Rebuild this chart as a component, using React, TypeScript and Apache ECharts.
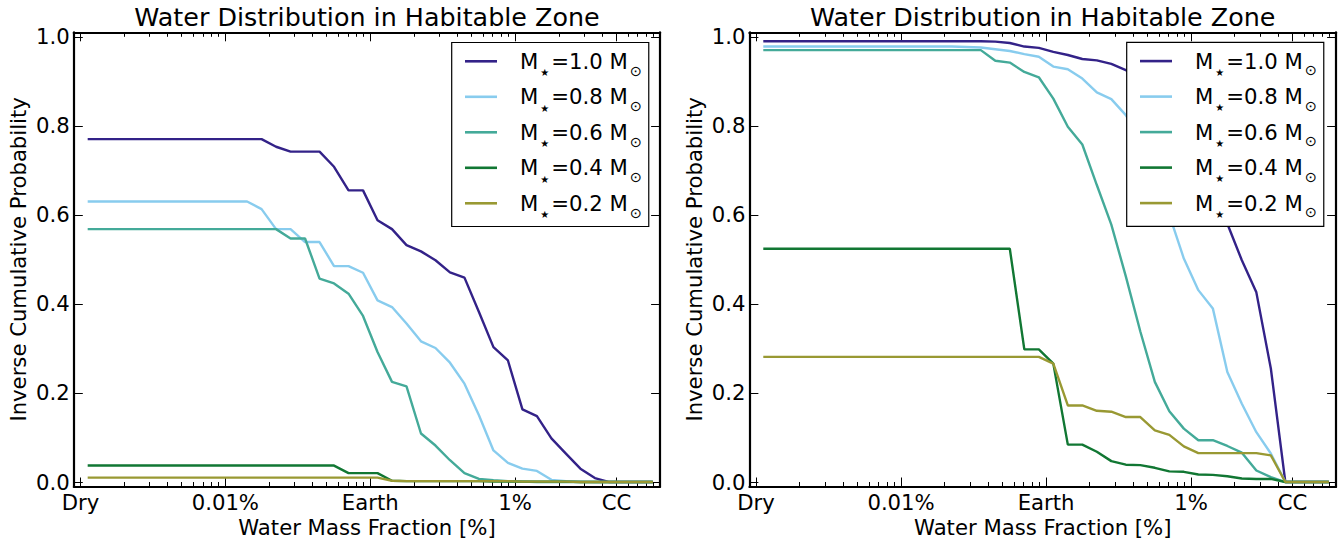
import React, { useEffect, useRef } from "react";
import * as echarts from "echarts";

// log10 of the water-mass-fraction bin centres (shared by both panels)
const binCenterLog10 = [
  -4.95, -4.85, -4.75, -4.65, -4.55, -4.45, -4.35, -4.25, -4.15, -4.05,
  -3.95, -3.85, -3.75, -3.65, -3.55, -3.45, -3.35, -3.25, -3.15, -3.05,
  -2.95, -2.85, -2.75, -2.65, -2.55, -2.45, -2.35, -2.25, -2.15, -2.05,
  -1.95, -1.85, -1.75, -1.65, -1.55, -1.45, -1.35, -1.25, -1.15, -1.05,
];

const starMasses = ["1.0", "0.8", "0.6", "0.4", "0.2"];
const seriesColors = ["#332288", "#88CCEE", "#44AA99", "#117733", "#999933"];

const xTickFractions = [1e-5, 1e-4, 1e-3, 1e-2, 5e-2];
const xTickLabels = ["Dry", "0.01%", "Earth", "1%", "CC"];
const yTickValues = [0, 0.2, 0.4, 0.6, 0.8, 1.0];
const xRange = [9e-6, 0.1];
const yRange = [-0.01, 1.01];

const titleText = "Water Distribution in Habitable Zone";
const xAxisTitle = "Water Mass Fraction [%]";
const yAxisTitle = "Inverse Cumulative Probability";

// Left panel
const leftM10 = [
  0.770, 0.770, 0.770, 0.770, 0.770, 0.770, 0.770, 0.770, 0.770, 0.770,
  0.770, 0.770, 0.770, 0.753, 0.742, 0.742, 0.742, 0.708, 0.655, 0.655,
  0.588, 0.568, 0.532, 0.518, 0.498, 0.471, 0.459, 0.382, 0.303, 0.273,
  0.163, 0.148, 0.098, 0.064, 0.030, 0.009, 0, 0, 0, 0,
];
const leftM08 = [
  0.630, 0.630, 0.630, 0.630, 0.630, 0.630, 0.630, 0.630, 0.630, 0.630,
  0.630, 0.630, 0.613, 0.568, 0.568, 0.539, 0.539, 0.485, 0.485, 0.470,
  0.408, 0.393, 0.356, 0.316, 0.301, 0.268, 0.221, 0.150, 0.071, 0.043,
  0.030, 0.025, 0.005, 0.002, 0.001, 0, 0, 0, 0, 0,
];
const leftM06 = [
  0.568, 0.568, 0.568, 0.568, 0.568, 0.568, 0.568, 0.568, 0.568, 0.568,
  0.568, 0.568, 0.568, 0.568, 0.547, 0.547, 0.457, 0.446, 0.423, 0.373,
  0.292, 0.225, 0.215, 0.109, 0.082, 0.049, 0.020, 0.007, 0.004, 0.002,
  0.001, 0, 0, 0, 0, 0, 0, 0, 0, 0,
];
const leftM04 = [
  0.037, 0.037, 0.037, 0.037, 0.037, 0.037, 0.037, 0.037, 0.037, 0.037,
  0.037, 0.037, 0.037, 0.037, 0.037, 0.037, 0.037, 0.037, 0.020, 0.020,
  0.020, 0.003, 0.002, 0.002, 0.002, 0.002, 0.002, 0.002, 0.001, 0.001,
  0.001, 0.001, 0.001, 0.001, 0, 0, 0, 0, 0, 0,
];
const leftM02 = [
  0.010, 0.010, 0.010, 0.010, 0.010, 0.010, 0.010, 0.010, 0.010, 0.010,
  0.010, 0.010, 0.010, 0.010, 0.010, 0.010, 0.010, 0.010, 0.010, 0.010,
  0.010, 0.003, 0.002, 0.002, 0.002, 0.002, 0.002, 0.002, 0.002, 0.002,
  0.001, 0.001, 0.001, 0.001, 0, 0, 0, 0, 0, 0,
];

// Right panel
const rightM10 = [
  0.990, 0.990, 0.990, 0.990, 0.990, 0.990, 0.990, 0.990, 0.990, 0.990,
  0.990, 0.990, 0.990, 0.990, 0.990, 0.990, 0.989, 0.986, 0.978, 0.975,
  0.966, 0.959, 0.950, 0.947, 0.939, 0.925, 0.900, 0.870, 0.830, 0.780,
  0.720, 0.650, 0.580, 0.498, 0.426, 0.255, 0, 0, 0, 0,
];
const rightM08 = [
  0.978, 0.978, 0.978, 0.978, 0.978, 0.978, 0.978, 0.978, 0.978, 0.978,
  0.978, 0.978, 0.978, 0.978, 0.977, 0.976, 0.972, 0.968, 0.961, 0.955,
  0.933, 0.927, 0.906, 0.875, 0.860, 0.824, 0.770, 0.690, 0.600, 0.502,
  0.431, 0.390, 0.247, 0.176, 0.112, 0.064, 0, 0, 0, 0,
];
const rightM06 = [
  0.970, 0.970, 0.970, 0.970, 0.970, 0.970, 0.970, 0.970, 0.970, 0.970,
  0.970, 0.970, 0.970, 0.970, 0.970, 0.970, 0.946, 0.942, 0.921, 0.909,
  0.861, 0.798, 0.758, 0.667, 0.578, 0.462, 0.338, 0.225, 0.159, 0.120,
  0.094, 0.094, 0.081, 0.066, 0.026, 0.011, 0, 0, 0, 0,
];
const rightM04 = [
  0.524, 0.524, 0.524, 0.524, 0.524, 0.524, 0.524, 0.524, 0.524, 0.524,
  0.524, 0.524, 0.524, 0.524, 0.524, 0.524, 0.524, 0.524, 0.298, 0.298,
  0.266, 0.084, 0.084, 0.068, 0.047, 0.039, 0.038, 0.032, 0.024, 0.023,
  0.017, 0.016, 0.013, 0.008, 0.007, 0.007, 0, 0, 0, 0,
];
const rightM02 = [
  0.281, 0.281, 0.281, 0.281, 0.281, 0.281, 0.281, 0.281, 0.281, 0.281,
  0.281, 0.281, 0.281, 0.281, 0.281, 0.281, 0.281, 0.281, 0.281, 0.281,
  0.266, 0.172, 0.172, 0.160, 0.158, 0.146, 0.146, 0.116, 0.106, 0.080,
  0.065, 0.065, 0.065, 0.065, 0.065, 0.060, 0, 0, 0, 0,
];

const panelValues = [
  [leftM10, leftM08, leftM06, leftM04, leftM02],
  [rightM10, rightM08, rightM06, rightM04, rightM02],
];

const FONT = "DejaVu Sans";
const FS = 21.2;
const TITLE_FS = 25.4;

const gridRects = [
  { left: 73.8, top: 32.3, width: 586.3, height: 454.2 },
  { left: 749.4, top: 32.3, width: 586.7, height: 454.2 },
];
const legendPos = [
  { left: 451.7, top: 42.5 },
  { left: 1126.7, top: 42.3 },
];

const seriesNames = starMasses.map((m) => `M★=${m} M⊙`);

function buildOption() {
  const xMin = Math.log10(xRange[0]);
  const xMax = Math.log10(xRange[1]);
  const majorLog = xTickFractions.map((v) => Math.log10(v));
  const minorLog: number[] = [];
  for (let d = -5; d <= -2; d++) {
    for (let m = 2; m <= 9; m++) {
      const v = Math.log10(m) + d;
      if (majorLog.some((t) => Math.abs(t - v) < 1e-9)) continue;
      minorLog.push(v);
    }
  }
  const tickStyle = { color: "#000", width: 1 };
  const frameLine = { show: true, onZero: false, lineStyle: { color: "#000", width: 2.2 } };
  const xLabelFmt = (v: number) => {
    const i = majorLog.findIndex((t) => Math.abs(t - v) < 1e-6);
    return i >= 0 ? xTickLabels[i] : "";
  };

  const xAxis: any[] = [];
  const yAxis: any[] = [];
  gridRects.forEach((_, g) => {
    const base = {
      type: "value",
      gridIndex: g,
      min: xMin,
      max: xMax,
      splitLine: { show: false },
    };
    xAxis.push({
      ...base,
      position: "bottom",
      axisLine: frameLine,
      axisTick: { show: true, inside: true, length: 9, customValues: majorLog, lineStyle: tickStyle },
      axisLabel: {
        show: true,
        customValues: majorLog,
        formatter: xLabelFmt,
        margin: 5,
        color: "#000",
        fontSize: FS,
        fontFamily: FONT,
      },
      name: xAxisTitle,
      nameLocation: "middle",
      nameGap: 30.5,
      nameTextStyle: { color: "#000", fontSize: FS, fontFamily: FONT },
    });
    xAxis.push({
      ...base,
      position: "top",
      axisLine: frameLine,
      axisTick: { show: true, inside: true, length: 9, customValues: majorLog, lineStyle: tickStyle },
      axisLabel: { show: false },
    });
    xAxis.push({
      ...base,
      position: "bottom",
      axisLine: { show: false, onZero: false },
      axisTick: { show: true, inside: true, length: 4.5, customValues: minorLog, lineStyle: tickStyle },
      axisLabel: { show: false },
    });
    xAxis.push({
      ...base,
      position: "top",
      axisLine: { show: false, onZero: false },
      axisTick: { show: true, inside: true, length: 4.5, customValues: minorLog, lineStyle: tickStyle },
      axisLabel: { show: false },
    });
    const ybase = {
      type: "value",
      gridIndex: g,
      min: yRange[0],
      max: yRange[1],
      splitLine: { show: false },
    };
    yAxis.push({
      ...ybase,
      position: "left",
      axisLine: frameLine,
      axisTick: { show: true, inside: true, length: 9, customValues: yTickValues, lineStyle: tickStyle },
      axisLabel: {
        show: true,
        customValues: yTickValues,
        formatter: (v: number) => v.toFixed(1),
        margin: 4,
        color: "#000",
        fontSize: FS,
        fontFamily: FONT,
      },
      name: yAxisTitle,
      nameLocation: "middle",
      nameGap: 44.7,
      nameTextStyle: { color: "#000", fontSize: FS, fontFamily: FONT },
    });
    yAxis.push({
      ...ybase,
      position: "right",
      axisLine: frameLine,
      axisTick: { show: true, inside: true, length: 9, customValues: yTickValues, lineStyle: tickStyle },
      axisLabel: { show: false },
    });
  });

  const series: any[] = [];
  panelValues.forEach((vals, g) => {
    vals.forEach((arr, j) => {
      series.push({
        type: "line",
        name: seriesNames[j],
        xAxisIndex: g * 4,
        yAxisIndex: g * 2,
        data: binCenterLog10.map((x, i) => [x, arr[i]]),
        symbol: "none",
        showSymbol: false,
        color: seriesColors[j],
        itemStyle: { color: seriesColors[j] },
        lineStyle: { color: seriesColors[j], width: 2.4 },
        silent: true,
        z: 2 + j,
      });
    });
  });

  const legend = legendPos.map((p) => ({
    ...p,
    orient: "vertical",
    data: seriesNames,
    icon: "rect",
    itemWidth: 32,
    itemHeight: 2.6,
    itemGap: 8.8,
    padding: [8.3, 7, 7, 13.3],
    backgroundColor: "#fff",
    borderColor: "#000",
    borderWidth: 1.2,
    borderRadius: 0,
    selectedMode: false,
    formatter: (name: string) => {
      const m = name.split("=")[1].split(" ")[0];
      return `{g| }{m|M}{st|★}{m|=${m} M}{s|⊙}`;
    },
    textStyle: {
      color: "#000",
      fontFamily: FONT,
      fontSize: FS,
      rich: {
        g: { width: 18, fontSize: FS, lineHeight: 32.4 },
        m: { color: "#000", fontFamily: FONT, fontSize: FS, lineHeight: 32.4 },
        st: {
          color: "#000",
          fontFamily: FONT,
          fontSize: 10,
          lineHeight: 14.4,
          verticalAlign: "bottom",
          padding: [0, 2, 0, 2],
        },
        s: {
          color: "#000",
          fontFamily: FONT,
          fontSize: 14.4,
          lineHeight: 14.4,
          verticalAlign: "bottom",
          padding: [0, 0, 0, 2],
        },
      },
    },
  }));

  const graphic = gridRects.map((r) => ({
    type: "text",
    x: r.left + r.width / 2,
    y: 17,
    silent: true,
    style: {
      text: titleText,
      fontSize: TITLE_FS,
      fontFamily: FONT,
      fill: "#000",
      align: "center",
      verticalAlign: "middle",
      textAlign: "center",
      textVerticalAlign: "middle",
    },
  }));

  return {
    animation: false,
    backgroundColor: "#fff",
    grid: gridRects.map((r) => ({ ...r, containLabel: false, outerBoundsMode: "none", show: false })),
    xAxis,
    yAxis,
    legend,
    series,
    graphic,
  };
}

export default function App() {
  const ref = useRef<HTMLDivElement | null>(null);
  useEffect(() => {
    if (!ref.current) return;
    const chart = echarts.init(ref.current, undefined, { renderer: "svg" });
    chart.setOption(buildOption() as any);
    return () => chart.dispose();
  }, []);
  return (
    <div
      ref={ref}
      style={{ position: "fixed", left: 0, top: 0, width: 1342, height: 542, background: "#fff" }}
    />
  );
}
